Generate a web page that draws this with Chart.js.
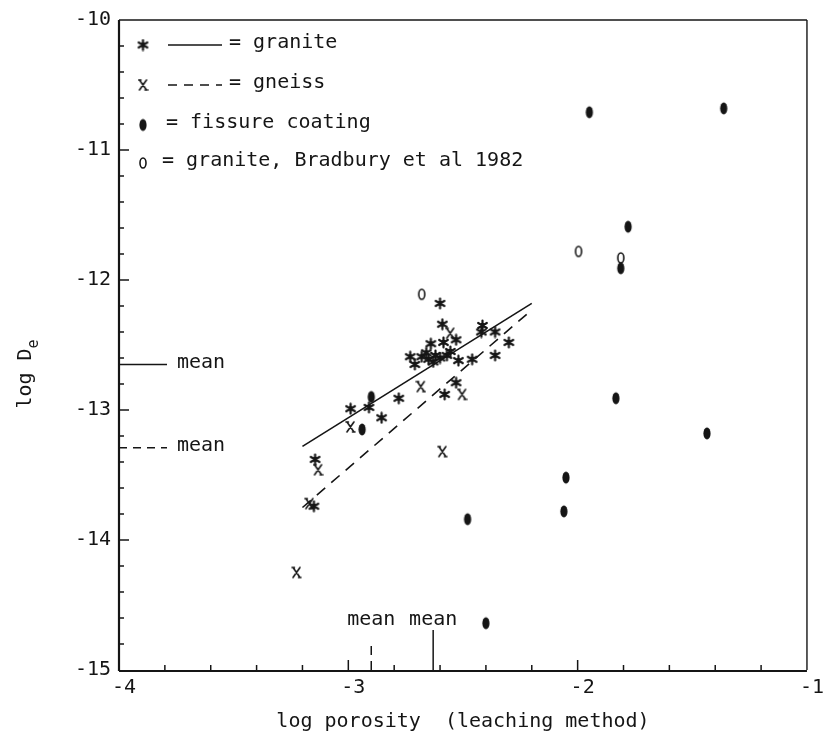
<!DOCTYPE html>
<html>
<head>
<meta charset="utf-8">
<script src="https://cdn.jsdelivr.net/npm/chart.js@4"></script>
<style>
  body { margin: 0; background: #fff; }
  canvas { display: block; }
</style>
</head>
<body>
<canvas id="diffChart" width="825" height="736"></canvas>
<script>
// log porosity (x) against log effective diffusivity (y)
let graniteX = [-2.60, -2.59, -2.53, -2.585, -2.64, -2.73, -2.71, -2.68, -2.63, -2.60, -2.57, -2.555,
                -2.66, -2.62, -2.65, -2.52, -2.46, -2.36, -2.415, -2.42, -2.36, -2.30, -2.53, -2.58,
                -2.78, -2.91, -2.99, -2.855, -3.145, -3.15];
let graniteY = [-12.18, -12.34, -12.46, -12.48, -12.49, -12.59, -12.65, -12.59, -12.63, -12.60, -12.58, -12.55,
                -12.56, -12.58, -12.61, -12.62, -12.61, -12.58, -12.35, -12.40, -12.40, -12.48, -12.79, -12.88,
                -12.91, -12.98, -12.99, -13.06, -13.38, -13.74];
let gneissX = [-2.556, -2.684, -2.504, -2.991, -2.59, -3.132, -3.17, -3.226];
let gneissY = [-12.41, -12.82, -12.88, -13.13, -13.32, -13.46, -13.72, -14.25];
let coatingX = [-1.949, -1.363, -1.78, -1.812, -1.833, -1.436, -2.051, -2.06, -2.48, -2.40, -2.90, -2.94];
let coatingY = [-10.71, -10.68, -11.59, -11.91, -12.91, -13.18, -13.52, -13.78, -13.84, -14.64, -12.90, -13.15];
let bradburyX = [-2.68, -1.996, -1.812];
let bradburyY = [-12.11, -11.78, -11.83];

// regression lines and means (granite, gneiss)
let fitX = [-3.2, -2.2];
let graniteFit = [-13.28, -12.18];
let gneissFit = [-13.75, -12.23];
let meanPorosity = [-2.63, -2.90];
let meanLogDe = [-12.65, -13.29];

const ink = '#151515';
const mono = '"DejaVu Sans Mono", monospace';

function toPoints(xs, ys) {
  return xs.map((x, i) => ({x: x, y: ys[i]}));
}

function makeMarker(w, h, draw) {
  let c = document.createElement('canvas');
  c.width = w;
  c.height = h;
  let g = c.getContext('2d');
  g.strokeStyle = ink;
  g.fillStyle = ink;
  g.lineCap = 'round';
  draw(g, w, h);
  return c;
}

// plotter style symbols
let starMark = makeMarker(13, 13, (g) => {
  g.lineWidth = 2.2;
  g.beginPath();
  for (let a = 0; a < 3; a++) {
    let t = Math.PI / 2 + a * Math.PI / 3;
    g.moveTo(6.5 + 5 * Math.cos(t), 6.5 + 5 * Math.sin(t));
    g.lineTo(6.5 - 5 * Math.cos(t), 6.5 - 5 * Math.sin(t));
  }
  g.stroke();
  g.beginPath();
  g.arc(6.5, 6.5, 2, 0, 2 * Math.PI);
  g.fill();
});

let crossMark = makeMarker(11, 14, (g) => {
  g.lineWidth = 1.6;
  g.beginPath();
  g.moveTo(2, 2); g.lineTo(9, 12);
  g.moveTo(9, 2); g.lineTo(2, 12);
  g.moveTo(1, 2); g.lineTo(3.5, 2);
  g.moveTo(7.5, 12); g.lineTo(10, 12);
  g.stroke();
});

let ovalMark = makeMarker(10, 15, (g) => {
  g.beginPath();
  g.ellipse(5, 7.5, 3.6, 6, 0, 0, 2 * Math.PI);
  g.fill();
});

let ringMark = makeMarker(10, 14, (g) => {
  g.lineWidth = 1.6;
  g.beginPath();
  g.ellipse(5, 7, 3, 5, 0, 0, 2 * Math.PI);
  g.stroke();
});

function isWhole(v) {
  return Math.abs(v - Math.round(v)) < 1e-6;
}

function seg(ctx, x1, y1, x2, y2) {
  ctx.beginPath();
  ctx.moveTo(x1, y1);
  ctx.lineTo(x2, y2);
  ctx.stroke();
}

// frame, inward ticks, mean markers, key and axis titles
const decorations = {
  id: 'decorations',
  afterDraw(chart) {
    const {ctx, chartArea: a, scales: {x, y}} = chart;
    ctx.save();
    ctx.strokeStyle = ink;
    ctx.fillStyle = ink;

    ctx.lineWidth = 1.4;
    seg(ctx, a.left, a.top, a.right, a.top);
    seg(ctx, a.right, a.top, a.right, a.bottom);
    ctx.lineWidth = 2.2;
    seg(ctx, a.left, a.bottom + 1, a.right, a.bottom + 1);
    seg(ctx, a.left, a.top, a.left, a.bottom + 1);

    ctx.lineWidth = 1.5;
    x.ticks.forEach((t) => {
      let px = x.getPixelForValue(t.value);
      if (px > a.left + 2 && px < a.right - 2) {
        seg(ctx, px, a.bottom, px, a.bottom - (isWhole(t.value) ? 10 : 5));
      }
    });
    y.ticks.forEach((t) => {
      let py = y.getPixelForValue(t.value);
      if (py > a.top + 2 && py < a.bottom - 2) {
        seg(ctx, a.left, py, a.left + (isWhole(t.value) ? 10 : 5), py);
      }
    });

    // means of log De along the left axis
    ctx.font = '20px ' + mono;
    ctx.textBaseline = 'middle';
    ctx.textAlign = 'left';
    ctx.lineWidth = 1.5;
    meanLogDe.forEach((m, i) => {
      let py = y.getPixelForValue(m);
      ctx.setLineDash(i === 0 ? [] : [8, 6]);
      seg(ctx, a.left, py, a.left + 48, py);
      ctx.setLineDash([]);
      ctx.fillText('mean', a.left + 58, py - 2);
    });

    // means of porosity along the bottom axis
    ctx.textAlign = 'center';
    meanPorosity.forEach((m, i) => {
      let px = x.getPixelForValue(m);
      ctx.setLineDash(i === 0 ? [] : [9, 6]);
      seg(ctx, px, a.bottom, px, a.bottom - (i === 0 ? 40 : 30));
      ctx.setLineDash([]);
      ctx.fillText('mean', px, a.bottom - 50);
    });

    // key
    let kx = a.left + 24;
    ctx.textAlign = 'left';
    ctx.drawImage(starMark, kx - 6.5, 45 - 6.5);
    seg(ctx, 168, 45, 222, 45);
    ctx.fillText('= granite', 229, 43);

    ctx.drawImage(crossMark, kx - 5.5, 85 - 7);
    ctx.setLineDash([9, 7]);
    seg(ctx, 168, 85, 222, 85);
    ctx.setLineDash([]);
    ctx.fillText('= gneiss', 229, 83);

    ctx.drawImage(ovalMark, kx - 5, 125 - 7.5);
    ctx.fillText('= fissure coating', 166, 123);

    ctx.drawImage(ringMark, kx - 5, 163 - 7);
    ctx.fillText('= granite, Bradbury et al 1982', 162, 161);

    // axis titles
    ctx.font = '20px ' + mono;
    ctx.textAlign = 'center';
    ctx.fillText('log porosity  (leaching method)', (a.left + a.right) / 2, 722);

    ctx.translate(26, 372);
    ctx.rotate(-Math.PI / 2);
    ctx.textAlign = 'left';
    let main = 'log D';
    let w = ctx.measureText(main).width;
    let sub = 13;
    ctx.fillText(main, -(w + sub) / 2, 0);
    ctx.font = '15px ' + mono;
    ctx.fillText('e', -(w + sub) / 2 + w, 8);
    ctx.restore();
  }
};

let symbolSet = (label, xs, ys, img) => ({
  label: label,
  data: toPoints(xs, ys),
  pointStyle: img,
  pointRadius: 6,
  showLine: false
});

let fitLine = (label, ys, dash) => ({
  label: label,
  data: toPoints(fitX, ys),
  showLine: true,
  borderColor: ink,
  borderWidth: 1.6,
  borderDash: dash,
  pointRadius: 0,
  fill: false
});

let ctx = document.getElementById('diffChart').getContext('2d');

let diffChart = new Chart(ctx, {
  type: 'scatter',
  data: {
    datasets: [
      fitLine('granite fit', graniteFit, []),
      fitLine('gneiss fit', gneissFit, [11, 8]),
      symbolSet('granite', graniteX, graniteY, starMark),
      symbolSet('gneiss', gneissX, gneissY, crossMark),
      symbolSet('fissure coating', coatingX, coatingY, ovalMark),
      symbolSet('granite, Bradbury et al 1982', bradburyX, bradburyY, ringMark)
    ]
  },
  options: {
    responsive: false,
    animation: false,
    events: [],
    layout: {
      autoPadding: false,
      padding: {top: 20, right: 4, left: 0, bottom: 0}
    },
    plugins: {
      legend: {display: false},
      tooltip: {enabled: false}
    },
    scales: {
      x: {
        type: 'linear',
        min: -4,
        max: -1,
        grid: {display: false, drawTicks: false},
        border: {display: false},
        ticks: {
          stepSize: 0.2,
          autoSkip: false,
          maxRotation: 0,
          padding: 6,
          labelOffset: 5,
          color: ink,
          font: {family: mono, size: 20},
          callback: (v) => isWhole(v) ? String(Math.round(v)) : ''
        },
        afterFit: (scale) => { scale.height = 66; }
      },
      y: {
        type: 'linear',
        min: -15,
        max: -10,
        grid: {display: false, drawTicks: false},
        border: {display: false},
        ticks: {
          stepSize: 0.2,
          autoSkip: false,
          padding: 8,
          color: ink,
          font: {family: mono, size: 20},
          callback: (v) => isWhole(v) ? String(Math.round(v)) : ''
        },
        afterFit: (scale) => { scale.width = 119; }
      }
    }
  },
  plugins: [decorations]
});
</script>
</body>
</html>
